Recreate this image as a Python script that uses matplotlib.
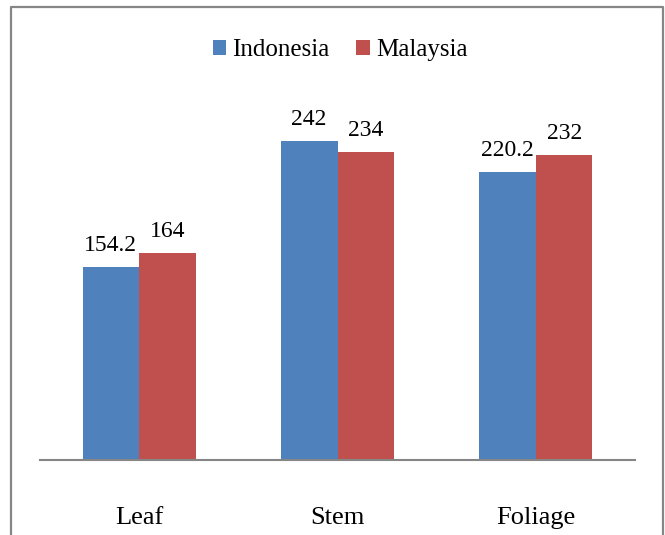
import matplotlib
matplotlib.use("Agg")
import matplotlib.pyplot as plt
from matplotlib.lines import Line2D
import numpy as np

categories = ["Leaf", "Stem", "Foliage"]
series_names = ["Indonesia", "Malaysia"]
indonesia = [154.2, 242, 220.2]
malaysia = [164, 234, 232]
labels_indonesia = ["154.2", "242", "220.2"]
labels_malaysia = ["164", "234", "232"]

colors = ["#4F81BD", "#C0504D"]

plt.rcParams['font.family'] = ['Liberation Serif', 'DejaVu Serif']

W, H = 665, 535
fig = plt.figure(figsize=(W / 100, H / 100), dpi=100)

# axes: x 40..635, y 86..460 (pixels from top)
ax = fig.add_axes([40 / W, 1 - 460 / H, 595 / W, (460 - 86) / H])

x = np.arange(len(categories))
w = 1 / 3.5
b1 = ax.bar(x - w / 2, indonesia, width=w, color=colors[0], label=series_names[0])
b2 = ax.bar(x + w / 2, malaysia, width=w, color=colors[1], label=series_names[1])

for bars, labs in ((b1, labels_indonesia), (b2, labels_malaysia)):
    for r, t in zip(bars, labs):
        ax.annotate(t, (r.get_x() + r.get_width() / 2, r.get_height()),
                    xytext=(0, 8), textcoords="offset points",
                    ha="center", va="bottom", fontsize=17, color="#000000")

ax.set_xlim(-0.5, len(categories) - 0.5)
ax.set_ylim(20, 280)
ax.set_yticks([])
ax.set_xticks(x)
ax.set_xticklabels(categories, fontsize=19)
ax.tick_params(axis="x", length=0, pad=34)
for s in ("top", "right", "left"):
    ax.spines[s].set_visible(False)
ax.spines["bottom"].set_color("#868686")
ax.spines["bottom"].set_linewidth(1.5)

ax.legend(loc="center", bbox_to_anchor=(340 / W, 1 - 50 / H),
          bbox_transform=fig.transFigure, ncol=2, frameon=False,
          fontsize=18, handlelength=0.55, handleheight=0.55,
          handletextpad=0.25, columnspacing=1.05, borderpad=0, borderaxespad=0)

# figure border (open at bottom)
fig.add_artist(Line2D([11 / W, 11 / W, 663 / W, 663 / W],
                      [0, 1 - 7 / H, 1 - 7 / H, 0],
                      transform=fig.transFigure, color="#868686", lw=1.6))

fig.savefig("out.png", dpi=100)
